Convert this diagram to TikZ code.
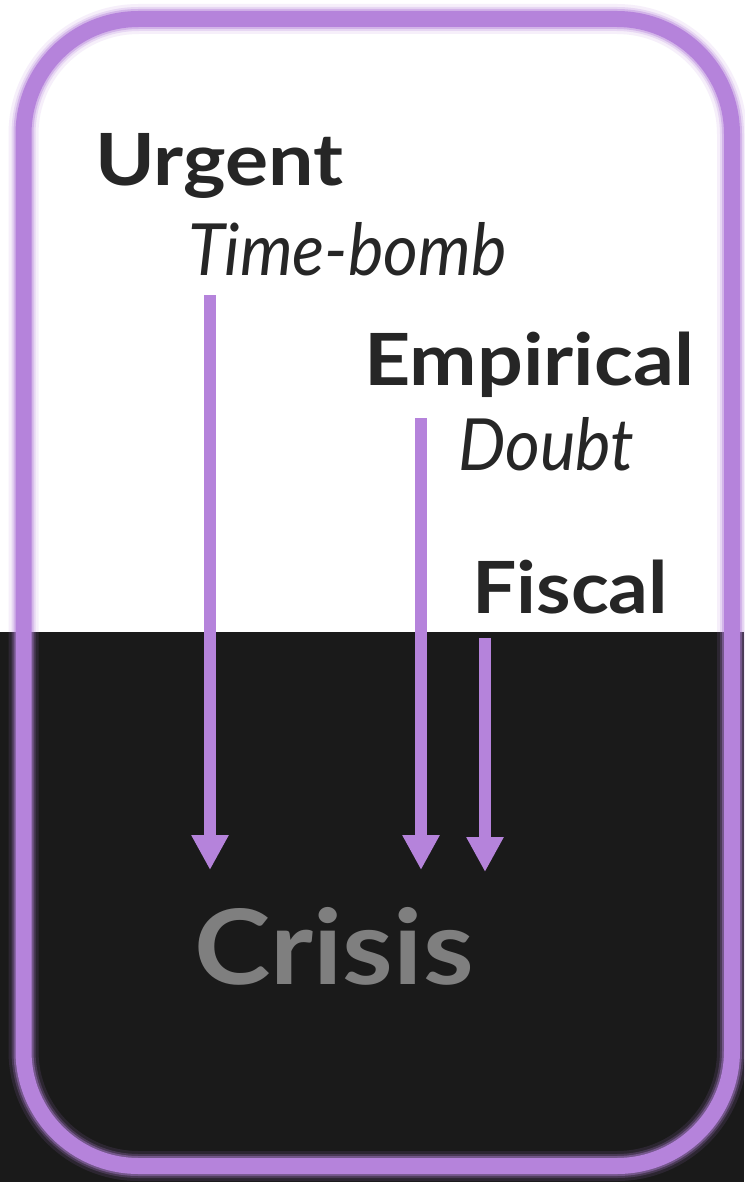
\documentclass[tikz,border=0pt]{standalone}
\usepackage{fontspec}
\setmainfont{Lato}
\usetikzlibrary{arrows.meta}
\definecolor{vio}{HTML}{B583DB}
\definecolor{ink}{HTML}{262626}
\definecolor{night}{HTML}{1A1A1A}
\definecolor{ash}{HTML}{7F7F7F}
\newcommand{\wideB}[1]{\scalebox{1.12}[1]{#1}}
\newcommand{\narrowI}[1]{\scalebox{0.93}[1]{#1}}
\tikzset{
  head/.style={font=\fontsize{72}{80}\selectfont\bfseries, text=ink, inner sep=0pt, anchor=base west},
  sub/.style={font=\fontsize{72}{80}\selectfont\itshape, text=ink, inner sep=0pt, anchor=base west},
  flow/.style={draw=vio, line width=12pt, -{Triangle[width=35pt,length=35pt]}, shorten >=0pt},
  frame/.style={vio, rounded corners=115pt},
}
\begin{document}
\begin{tikzpicture}[x=1pt,y=-1pt]
\useasboundingbox (0,0) rectangle (744,1182);
\fill[white] (0,0) rectangle (744,632);
\fill[night] (0,632) rectangle (744,1182);
% frame with soft glow
\draw[frame, opacity=0.12, line width=30pt] (23.5,19) rectangle (732,1166);
\draw[frame, opacity=0.22, line width=24pt] (23.5,19) rectangle (732,1166);
\draw[frame, opacity=0.40, line width=20pt] (23.5,19) rectangle (732,1166);
\draw[frame, line width=16pt] (23.5,19) rectangle (732,1166);
% labels
\node[head] (urgent) at (95,186) {\wideB{Urgent}};
\node[sub] (timebomb) at (188,275) {\narrowI{Time-bomb}};
\node[head] (empirical) at (364,385) {\wideB{Empirical}};
\node[sub] (doubt) at (458,470) {\narrowI{Doubt}};
\node[head] (fiscal) at (472,613) {\scalebox{1.09}[1]{Fiscal}};
\node[font=\fontsize{104}{110}\selectfont\bfseries, text=ash, inner sep=0pt, anchor=base west] (crisis) at (194,984) {\scalebox{1.11}[1]{Crisis}};
% arrows
\coordinate (s1) at (210,295);
\coordinate (e1) at (210,870);
\coordinate (s2) at (421,418);
\coordinate (e2) at (421,870);
\coordinate (s3) at (485,638);
\coordinate (e3) at (485,872);
\draw[flow] (s1) -- (e1);
\draw[flow] (s2) -- (e2);
\draw[flow] (s3) -- (e3);
\end{tikzpicture}
\end{document}
